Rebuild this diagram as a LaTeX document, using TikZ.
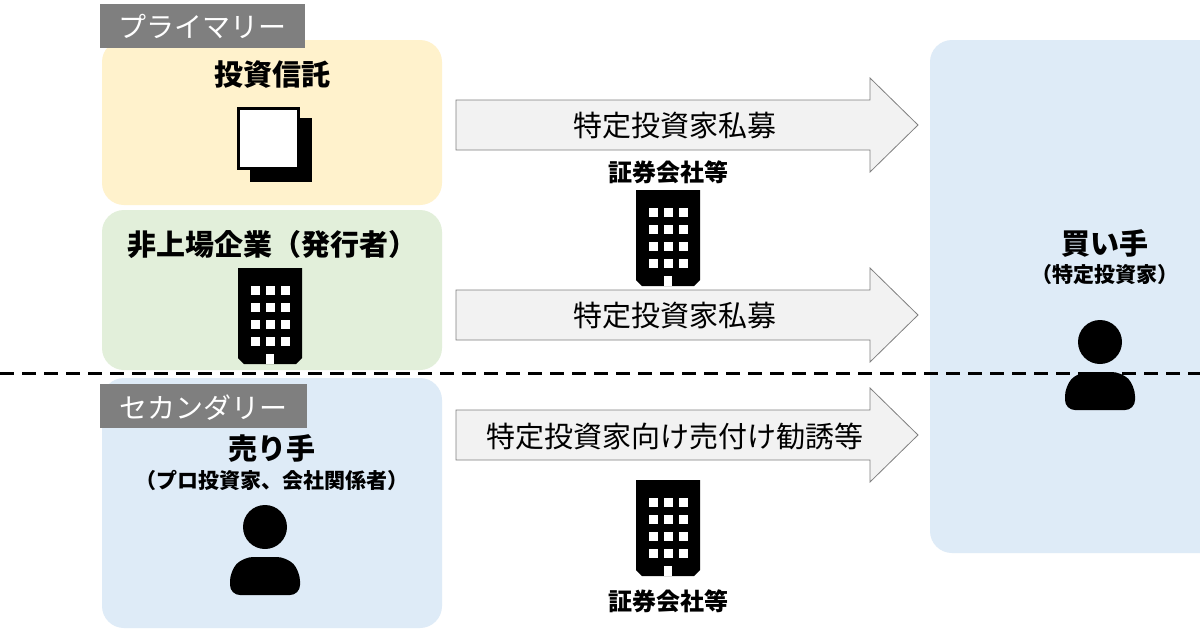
\documentclass[tikz,border=0pt]{standalone}
\usepackage{fontspec}
\setmainfont{Noto Sans CJK JP}
\usetikzlibrary{positioning}
\definecolor{ylw}{HTML}{FFF2CC}
\definecolor{grn}{HTML}{E2EFDA}
\definecolor{blu}{HTML}{DEEBF7}
\definecolor{tagg}{HTML}{7F7F7F}
\definecolor{arrg}{HTML}{F2F2F2}
\tikzset{
  panel/.style={fill=#1, draw=none, rounded corners=22pt},
  tag/.style={fill=tagg, text=white, font=\fontsize{28}{30}\selectfont, inner sep=0pt, anchor=north west, text depth=0pt},
  ttl/.style={font=\fontsize{29}{31}\selectfont\bfseries},
  sub/.style={font=\fontsize{21}{23}\selectfont\bfseries},
  atxt/.style={font=\fontsize{29}{31}\selectfont}
}
% building icon centred at #1,#2
\newcommand\bldg[2]{%
  \begin{scope}[shift={(#1,#2)}]
  \fill (-32,-48) -- (-32,42) -- (-26,48) -- (26,48) -- (32,42) -- (32,-48) -- cycle;
  \foreach \i in {0,1,2} \foreach \j in {0,1,2,3}
    \fill[white] (-19+\i*15,-30+\j*17) rectangle ++(9,9);
  \fill[white] (-4,38) rectangle (4,48);
  \end{scope}}
% person icon centred at #1,#2
\newcommand\psn[2]{%
  \begin{scope}[shift={(#1,#2)}]
  \fill (0,-18) circle (22);
  \fill[rounded corners=10pt] (-35,50) -- (-35,26) -- (-22,12) -- (22,12) -- (35,26) -- (35,50) -- cycle;
  \end{scope}}
% block arrow with body top y #1
\newcommand\barr[2]{%
  \draw[draw=gray, fill=arrg, line width=0.8pt] (456,#1) -- (870,#1) -- (870,#1-22) -- (918,#1+25) -- (870,#1+72) -- (870,#1+50) -- (456,#1+50) -- cycle;
  \node[atxt] at (675,#1+26) {#2};}
\begin{document}
\begin{tikzpicture}[x=1pt,y=-1pt]
  \useasboundingbox (0,0) rectangle (1200,630);
  \fill[white] (0,0) rectangle (1200,630);
  % panels
  \fill[panel=ylw] (102,40) rectangle (442,205);
  \fill[panel=grn] (102,210) rectangle (442,370);
  \fill[panel=blu] (102,378) rectangle (442,628);
  \fill[panel=blu] (930,40) rectangle (1230,553);
  \node[tag, minimum width=205, minimum height=44] (pri) at (100,4) {プライマリー};
  \node[tag, minimum width=207, minimum height=44] (sec) at (100,384) {セカンダリー};
  % left column
  \node[ttl] (fund) at (272,75) {投資信託};
  \fill (250,118) rectangle (312,182);
  \draw[fill=white, line width=3pt] (238,108) rectangle (298,168);
  \node[ttl] (issuer) at (272,245) {非上場企業（発行者）};
  \bldg{270}{316}
  \node[ttl] (seller) at (272,448) {売り手};
  \node[sub] (sellsub) at (272,480) {（プロ投資家、会社関係者）};
  \psn{265}{545}
  % right column
  \node[ttl] (buyer) at (1105,243) {買い手};
  \node[sub] (buysub) at (1105,275) {（特定投資家）};
  \psn{1100}{360}
  % arrows
  \barr{100}{特定投資家私募}
  \barr{290}{特定投資家私募}
  \barr{410}{特定投資家向け売付け勧誘等}
  \node[sub, font=\fontsize{24}{26}\selectfont\bfseries] (bro1) at (668,172) {証券会社等};
  \bldg{668}{238}
  \bldg{668}{528}
  \node[sub, font=\fontsize{24}{26}\selectfont\bfseries] (bro2) at (668,601) {証券会社等};
  % divider
  \draw[dashed, line width=3pt, dash pattern=on 14pt off 8pt] (0,373) -- (1200,373);
\end{tikzpicture}
\end{document}
